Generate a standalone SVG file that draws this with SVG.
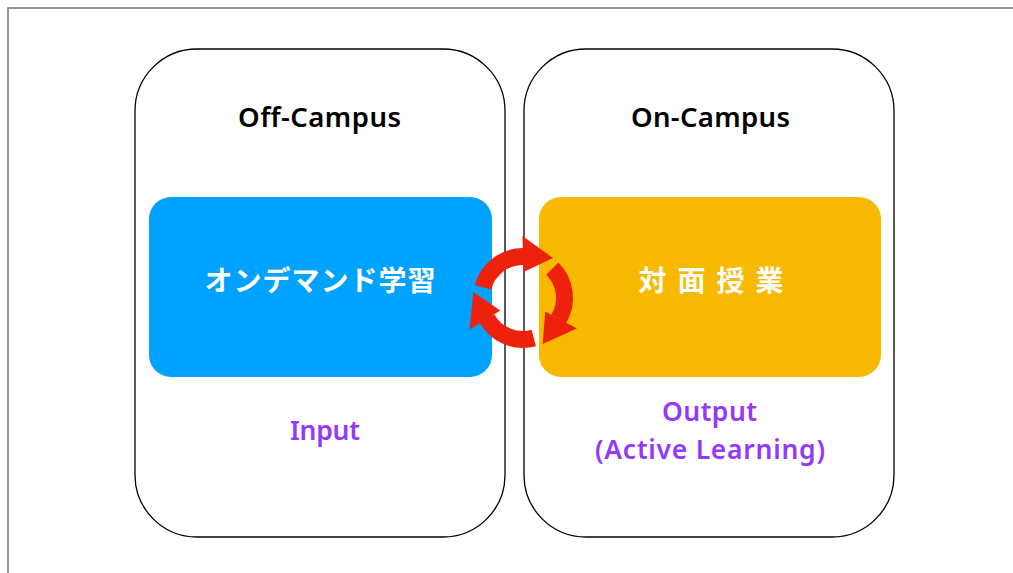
<svg xmlns="http://www.w3.org/2000/svg" xmlns:xlink="http://www.w3.org/1999/xlink" width="1013" height="573" viewBox="0 0 1013 573">
  <style>
    .frame { fill: none; stroke: #7a7a7a; stroke-width: 1.6; }
    .panel { fill: #ffffff; stroke: #000000; stroke-width: 1.3; }
    .title { font-family: "Noto Sans", "Liberation Sans", sans-serif; font-weight: 600; font-size: 27.5px; fill: #000000; text-anchor: middle; }
    .jp { font-family: "Noto Sans CJK JP", "Noto Sans", sans-serif; font-weight: 700; font-size: 28px; fill: #ffffff; text-anchor: middle; }
    .note { font-family: "Noto Sans", "Liberation Sans", sans-serif; font-weight: 600; font-size: 26.5px; fill: #9437ff; text-anchor: middle; }
    .ring { fill: none; stroke: #ee220c; stroke-width: 17; stroke-linecap: butt; }
    .head { fill: #ee220c; }
  </style>
  <defs>
    <!-- one third of the circular arrow: arc from 195deg to 270deg plus its head -->
    <g id="cycle-arrow">
      <path class="ring" d="M 482.9 287.3 A 41.5 41.5 0 0 1 523.5 256.5"/>
      <polygon class="head" points="522.5,236 553,258 523.5,272"/>
    </g>
  </defs>

  <!-- page frame -->
  <rect class="frame" x="8" y="8" width="1020" height="580"/>

  <g id="off-campus">
    <rect class="panel" x="135" y="49" width="370" height="488" rx="62" ry="62"/>
    <text class="title" x="319.5" y="127" textLength="163">Off-Campus</text>
  </g>

  <g id="on-campus">
    <rect class="panel" x="524" y="49" width="370" height="488" rx="62" ry="62"/>
    <text class="title" x="710.5" y="127" textLength="159">On-Campus</text>
  </g>

  <g id="on-demand">
    <rect x="149" y="197" width="343" height="180" rx="22" ry="22" fill="#00a2ff"/>
    <text class="jp" x="320" y="291" textLength="231">オンデマンド学習</text>
  </g>

  <!-- lower arrow sits beneath the face-to-face block -->
  <g id="cycle-lower">
    <use xlink:href="#cycle-arrow" transform="rotate(240 523 298)"/>
  </g>

  <g id="face-to-face">
    <rect x="539" y="197" width="342" height="180" rx="22" ry="22" fill="#f8ba00"/>
    <text class="jp" x="711" y="291" textLength="145">対 面 授 業</text>
  </g>

  <g id="cycle-upper">
    <use xlink:href="#cycle-arrow"/>
    <use xlink:href="#cycle-arrow" transform="rotate(120 523 298)"/>
  </g>

  <g id="input-label">
    <text class="note" x="325" y="440" textLength="70">Input</text>
  </g>

  <g id="output-label">
    <text class="note" x="709.5" y="421" textLength="95">Output</text>
    <text class="note" x="710" y="459" textLength="230">(Active Learning)</text>
  </g>
</svg>
